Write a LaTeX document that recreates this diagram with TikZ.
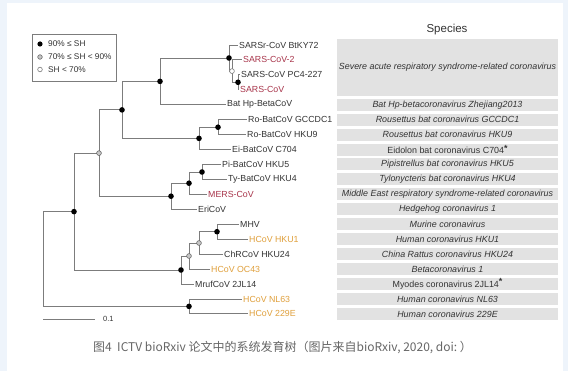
\documentclass[tikz,border=0pt]{standalone}
\usepackage{fontspec}
\setmainfont{Liberation Sans}
\newfontfamily\cjkfont{Noto Sans CJK SC}
\usepackage{xcolor}
\usepackage{tikz}
\usetikzlibrary{positioning}

\definecolor{pagebg}{HTML}{EEF4FB}
\definecolor{branch}{HTML}{7C7C7C}
\definecolor{sarsred}{HTML}{A8344A}
\definecolor{hcovorange}{HTML}{E0A03C}
\definecolor{rowgrey}{HTML}{E2E2E2}
\definecolor{labelgrey}{HTML}{333333}
\definecolor{captiongrey}{HTML}{666666}

\begin{document}
\begin{tikzpicture}[
    x=1pt, y=-1pt,
    tip/.style={anchor=west, inner xsep=1pt, inner ysep=0pt,
                font=\fontsize{8.8}{10}\selectfont, text=labelgrey},
    branchline/.style={draw=branch, line width=0.8pt},
    row/.style={fill=rowgrey, minimum width=221pt, minimum height=12pt,
                inner sep=0pt, font=\fontsize{8.9}{10}\selectfont\itshape,
                text=labelgrey},
    legendtext/.style={anchor=west, inner sep=0pt,
                font=\fontsize{8.3}{10}\selectfont, text=labelgrey},
    fulldot/.style={fill=black},
    greydot/.style={fill=gray!45, draw=gray!70!black, line width=0.5pt},
    opendot/.style={fill=white, draw=branch, line width=0.6pt},
  ]

  % Page background
  \useasboundingbox (0,0) rectangle (568,371);
  \fill[pagebg] (0,0) rectangle (568,371);
  \fill[white] (7,3) rectangle (563,371);

  % Legend
  \node[draw=branch, line width=0.5pt, minimum width=84pt, minimum height=47pt,
        inner sep=0pt] (legend) at (74,57.5) {};
  \node[legendtext] (leg1) at (48,44) {90\% ≤ SH};
  \node[legendtext] (leg2) at (48,57) {70\% ≤ SH < 90\%};
  \node[legendtext] (leg3) at (48,69.5) {SH < 70\%};
  \fill[fulldot] (40,44) circle (2.6pt);
  \filldraw[greydot] (40,57) circle (2.3pt);
  \filldraw[opendot] (40,69.5) circle (2.3pt);

  % Tips
  \node[tip] (t1) at (238,45) {SARSr-CoV BtKY72};
  \node[tip, text=sarsred] (t2) at (242,59.9) {SARS-CoV-2};
  \node[tip] (t3) at (240,74.9) {SARS-CoV PC4-227};
  \node[tip, text=sarsred] (t4) at (239,89.8) {SARS-CoV};
  \node[tip] (t5) at (226,104.8) {Bat Hp-BetaCoV};
  \node[tip] (t6) at (247,119.7) {Ro-BatCoV GCCDC1};
  \node[tip] (t7) at (246,134.6) {Ro-BatCoV HKU9};
  \node[tip] (t8) at (231,149.6) {Ei-BatCoV C704};
  \node[tip] (t9) at (221,164.5) {Pi-BatCoV HKU5};
  \node[tip] (t10) at (227,179.5) {Ty-BatCoV HKU4};
  \node[tip, text=sarsred] (t11) at (207,194.4) {MERS-CoV};
  \node[tip] (t12) at (197,209.3) {EriCoV};
  \node[tip] (t13) at (239,224.3) {MHV};
  \node[tip, text=hcovorange] (t14) at (248,239.2) {HCoV HKU1};
  \node[tip] (t15) at (223,254.2) {ChRCoV HKU24};
  \node[tip, text=hcovorange] (t16) at (210,269.1) {HCoV OC43};
  \node[tip] (t17) at (194,284) {MrufCoV 2JL14};
  \node[tip, text=hcovorange] (t18) at (242,299) {HCoV NL63};
  \node[tip, text=hcovorange] (t19) at (248,313.9) {HCoV 229E};

  % Internal nodes
  \coordinate (n3) at (238,82.3);
  \coordinate (n2) at (232,71.1);
  \coordinate (n1) at (229,58);
  \coordinate (n4) at (160,81.4);
  \coordinate (n5) at (218,127.2);
  \coordinate (n6) at (199,138.4);
  \coordinate (n7) at (122,109.9);
  \coordinate (n8) at (202,172);
  \coordinate (n9) at (189,183.2);
  \coordinate (n10) at (171,196.2);
  \coordinate (n11) at (99,153.1);
  \coordinate (n12) at (217,231.7);
  \coordinate (n13) at (199,243);
  \coordinate (n14) at (189,256);
  \coordinate (n15) at (181,270);
  \coordinate (n16) at (74,211.6);
  \coordinate (n17) at (189,306.4);
  \coordinate (root) at (43,259);

  % Branches
  \draw[branchline] (n3) |- (t3.west);
  \draw[branchline] (n3) |- (t4.west);
  \draw[branchline] (n2) |- (t2.west);
  \draw[branchline] (n2) |- (n3);
  \draw[branchline] (n1) |- (t1.west);
  \draw[branchline] (n1) |- (n2);
  \draw[branchline] (n4) |- (n1);
  \draw[branchline] (n4) |- (t5.west);
  \draw[branchline] (n5) |- (t6.west);
  \draw[branchline] (n5) |- (t7.west);
  \draw[branchline] (n6) |- (n5);
  \draw[branchline] (n6) |- (t8.west);
  \draw[branchline] (n7) |- (n4);
  \draw[branchline] (n7) |- (n6);
  \draw[branchline] (n8) |- (t9.west);
  \draw[branchline] (n8) |- (t10.west);
  \draw[branchline] (n9) |- (n8);
  \draw[branchline] (n9) |- (t11.west);
  \draw[branchline] (n10) |- (n9);
  \draw[branchline] (n10) |- (t12.west);
  \draw[branchline] (n11) |- (n7);
  \draw[branchline] (n11) |- (n10);
  \draw[branchline] (n12) |- (t13.west);
  \draw[branchline] (n12) |- (t14.west);
  \draw[branchline] (n13) |- (n12);
  \draw[branchline] (n13) |- (t15.west);
  \draw[branchline] (n14) |- (n13);
  \draw[branchline] (n14) |- (t16.west);
  \draw[branchline] (n15) |- (n14);
  \draw[branchline] (n15) |- (t17.west);
  \draw[branchline] (n16) |- (n11);
  \draw[branchline] (n16) |- (n15);
  \draw[branchline] (n17) |- (t18.west);
  \draw[branchline] (n17) |- (t19.west);
  \draw[branchline] (root) |- (n16);
  \draw[branchline] (root) |- (n17);

  % Support dots
  \fill[fulldot] (n1) circle (2.8pt);
  \filldraw[opendot] (n2) circle (2.4pt);
  \fill[fulldot] (n3) circle (2.8pt);
  \fill[fulldot] (n4) circle (2.8pt);
  \fill[fulldot] (n5) circle (2.8pt);
  \fill[fulldot] (n6) circle (2.8pt);
  \fill[fulldot] (n7) circle (2.8pt);
  \fill[fulldot] (n8) circle (2.8pt);
  \fill[fulldot] (n9) circle (2.8pt);
  \fill[fulldot] (n10) circle (2.8pt);
  \filldraw[greydot] (n11) circle (2.4pt);
  \fill[fulldot] (n12) circle (2.8pt);
  \filldraw[greydot] (n13) circle (2.4pt);
  \filldraw[greydot] (n14) circle (2.4pt);
  \fill[fulldot] (n15) circle (2.8pt);
  \fill[fulldot] (n16) circle (2.8pt);
  \fill[fulldot] (n17) circle (2.8pt);

  % Scale bar
  \coordinate (bar) at (43,319);
  \node[anchor=west, inner sep=0pt, font=\fontsize{7.5}{9}\selectfont,
        text=labelgrey] (barlabel) at (103,319) {0.1};
  \draw[branchline] (bar) -- ++(52,0);

  % Species column
  \node[font=\fontsize{11.5}{13}\selectfont, text=labelgrey] (species) at (447,30) {Species};
  \node[row, minimum height=56.8pt] (r1) at (447.5,67.4)
    {Severe acute respiratory syndrome-related coronavirus};
  \node[row] (r5) at (447.5,104.8) {Bat Hp-betacoronavirus Zhejiang2013};
  \node[row] (r6) at (447.5,119.7) {Rousettus bat coronavirus GCCDC1};
  \node[row] (r7) at (447.5,134.6) {Rousettus bat coronavirus HKU9};
  \node[row, font=\fontsize{8.9}{10}\selectfont] (r8) at (447.5,149.6)
    {Eidolon bat coronavirus C704\raisebox{2.5pt}{\textbf{*}}};
  \node[row] (r9) at (447.5,164.5) {Pipistrellus bat coronavirus HKU5};
  \node[row] (r10) at (447.5,179.5) {Tylonycteris bat coronavirus HKU4};
  \node[row] (r11) at (447.5,194.4) {Middle East respiratory syndrome-related coronavirus};
  \node[row] (r12) at (447.5,209.3) {Hedgehog coronavirus 1};
  \node[row] (r13) at (447.5,224.3) {Murine coronavirus};
  \node[row] (r14) at (447.5,239.2) {Human coronavirus HKU1};
  \node[row] (r15) at (447.5,254.2) {China Rattus coronavirus HKU24};
  \node[row] (r16) at (447.5,269.1) {Betacoronavirus 1};
  \node[row, font=\fontsize{8.9}{10}\selectfont] (r17) at (447.5,284)
    {Myodes coronavirus 2JL14\raisebox{2.5pt}{\textbf{*}}};
  \node[row] (r18) at (447.5,299) {Human coronavirus NL63};
  \node[row] (r19) at (447.5,313.9) {Human coronavirus 229E};

  % Caption
  \node[anchor=west, inner sep=0pt, font=\cjkfont\fontsize{12}{14}\selectfont,
        text=captiongrey] (caption) at (93,348)
    {图4\ \ ICTV\ bioRxiv\ 论文中的系统发育树（图片来自bioRxiv,\ 2020,\ doi:\ ）};

\end{tikzpicture}
\end{document}
